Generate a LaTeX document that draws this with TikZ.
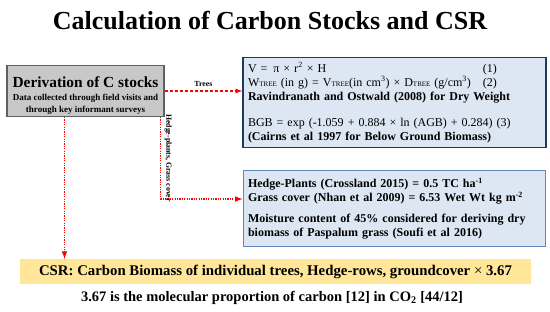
\documentclass[tikz,border=0pt]{standalone}
\usepackage{fontspec}
\setmainfont{LiberationSerif}[Extension=.ttf, UprightFont=*-Regular, BoldFont=*-Bold, ItalicFont=*-Italic, BoldItalicFont=*-BoldItalic]
\usetikzlibrary{arrows, calc, positioning}
\definecolor{boxblue}{RGB}{221, 231, 244}
\definecolor{navyline}{RGB}{32, 56, 100}
\definecolor{steelline}{RGB}{96, 134, 186}
\definecolor{csryellow}{RGB}{255, 230, 153}
\definecolor{stockgray}{RGB}{200, 200, 200}

\begin{document}
\begin{tikzpicture}[x=1pt, y=-1pt,
        derivbox/.style={rectangle, draw=gray!75!black, line width=1.2pt, fill=stockgray,
          minimum width=157pt, minimum height=50pt, align=center, inner sep=2pt, font=\bfseries},
        infobox/.style={rectangle, fill=boxblue, align=left, inner sep=5pt,
          font=\fontsize{12}{14}\selectfont},
        csrbox/.style={rectangle, fill=csryellow, minimum width=511pt, minimum height=25pt,
          font=\bfseries\fontsize{14.8}{17}\selectfont},
        lbl/.style={text=black, font=\bfseries\fontsize{7.8}{9}\selectfont},
        treearrow/.style={-latex, red, line width=1.3pt, dash pattern=on 3pt off 2pt},
        dotarrow/.style={-latex, red, line width=1.5pt, dash pattern=on 1.2pt off 1.2pt}
      ]
        \useasboundingbox (0,0) rectangle (550,312);
        \node (title) at (270,21) {\bfseries\fontsize{26}{30}\selectfont Calculation of Carbon Stocks and CSR};
        \node[derivbox] (derive) at (85.5,91) {\fontsize{15.4}{17}\selectfont\rule{0pt}{20pt}Derivation of C stocks\\[1pt]
          \fontsize{9}{11.5}\selectfont Data collected through field visits and\\
          \fontsize{9}{11.5}\selectfont through key informant surveys};
        \node[infobox, draw=navyline, line width=1.5pt, text width=293pt, minimum height=89pt] (trees) at (394.5,102.5)
          {\makebox[235pt][l]{V =\, π × r\textsuperscript{2} × H}(1)\\
           \makebox[235pt][l]{W{\scriptsize TREE} (in g) = V{\scriptsize TREE}(in cm\textsuperscript{3}) × D{\scriptsize TREE} (g/cm\textsuperscript{3})}(2)\\
           \textbf{Ravindranath and Ostwald (2008) for Dry Weight}\\[12pt]
           BGB = exp (-1.059 + 0.884 × ln (AGB) + 0.284) (3)\\
           \textbf{(Cairns et al 1997 for Below Ground Biomass)}};
        \node[infobox, draw=steelline, line width=1pt, text width=292pt, minimum height=76pt] (hedge) at (394,209)
          {\textbf{Hedge-Plants (Crossland 2015) = 0.5 TC ha\textsuperscript{-1}}\\
           \textbf{Grass cover (Nhan et al 2009) = 6.53 Wet Wt kg m\textsuperscript{-2}}\\[7pt]
           \textbf{Moisture content of 45\% considered for deriving dry}\\
           \textbf{biomass of Paspalum grass (Soufi et al 2016)}};
        \node[csrbox] (csr) at (275.5,271.5) {CSR: Carbon Biomass of individual trees, Hedge-rows, groundcover {\mdseries ×} 3.67};
        \node (ratio) at (272,298) {\bfseries\fontsize{14.5}{17}\selectfont 3.67 is the molecular proportion of carbon [12] in CO\textsubscript{2} [44/12]};
        \draw[treearrow] (derive.east) -- node[lbl, above] {Trees} (derive.east -| trees.west);
        \draw[dotarrow] ([xshift=-4pt]derive.south east) |- node[lbl, pos=0.25, anchor=south, rotate=-90] {Hedge-plants, Grass cover} ([yshift=10pt]hedge.west);
        \draw[dotarrow] ([xshift=-21pt]derive.south) -- ([xshift=-21pt]derive.south |- csr.north);
      \end{tikzpicture}
\end{document}
